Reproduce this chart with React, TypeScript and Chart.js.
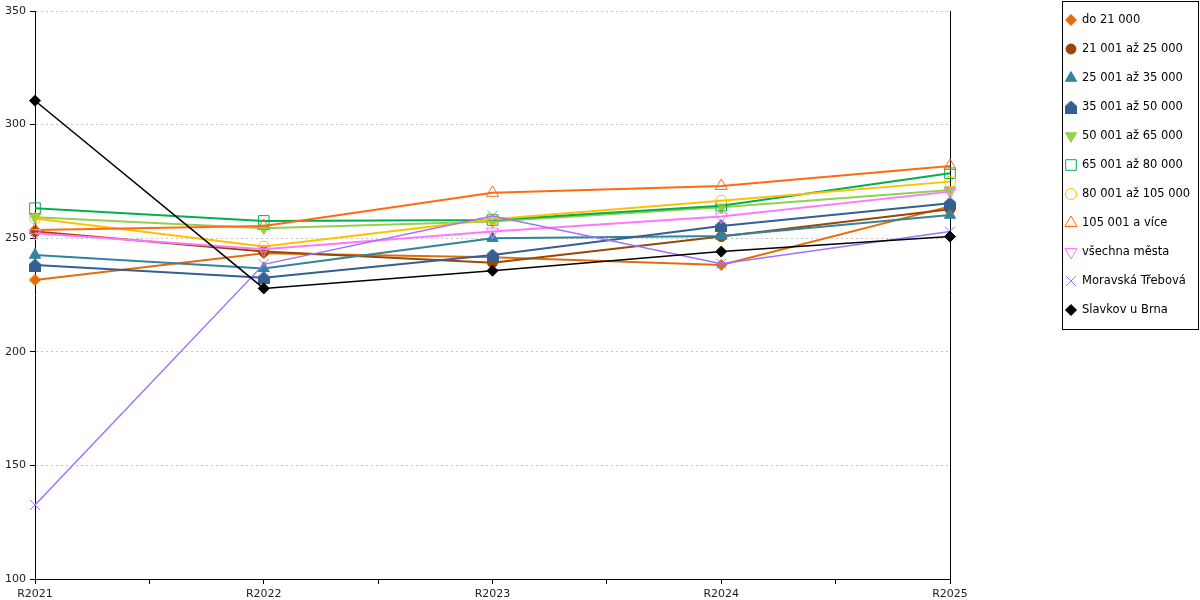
import React, { useEffect, useRef } from "react";
import { Chart, registerables } from "chart.js";
import { drawPoint } from "chart.js/helpers";

Chart.register(...registerables);

const categories = ["R2021", "R2022", "R2023", "R2024", "R2025"];

const seriesNames = [
  "do 21 000",
  "21 001 až 25 000",
  "25 001 až 35 000",
  "35 001 až 50 000",
  "50 001 až 65 000",
  "65 001 až 80 000",
  "80 001 až 105 000",
  "105 001 a více",
  "všechna města",
  "Moravská Třebová",
  "Slavkov u Brna",
];

const do21000 = [231.6, 243.4, 241.6, 238.2, 264.0];
const od21001 = [252.9, 244.1, 239.2, 250.7, 262.7];
const od25001 = [242.6, 236.7, 250.0, 251.0, 260.2];
const od35001 = [238.2, 232.6, 242.6, 255.4, 265.4];
const od50001 = [259.2, 254.4, 257.3, 263.6, 271.2];
const od65001 = [263.2, 257.6, 258.0, 264.3, 278.6];
const od80001 = [258.7, 246.3, 258.3, 266.5, 274.9];
const od105001 = [253.6, 255.4, 270.0, 273.0, 281.8];
const vsechnaMesta = [252.2, 245.1, 252.9, 259.5, 270.5];
const moravskaTrebova = [132.6, 238.5, 259.8, 238.8, 252.9];
const slavkovUBrna = [310.5, 227.9, 235.7, 244.1, 250.7];

const seriesValues = [
  do21000,
  od21001,
  od25001,
  od35001,
  od50001,
  od65001,
  od80001,
  od105001,
  vsechnaMesta,
  moravskaTrebova,
  slavkovUBrna,
];

const yMin = 100;
const yMax = 350;
const yStep = 50;

// pointStyle "house" is made as a small canvas in the effect
const seriesStyles = [
  { color: "#e46c0a", point: "rectRot", radius: 5.5, filled: true, rotation: 0, width: 2 },
  { color: "#974806", point: "circle", radius: 5, filled: true, rotation: 0, width: 2 },
  { color: "#31849b", point: "triangle", radius: 6.5, filled: true, rotation: 0, width: 2 },
  { color: "#365f91", point: "house", radius: 6, filled: true, rotation: 0, width: 2 },
  { color: "#92d050", point: "triangle", radius: 6.5, filled: true, rotation: 180, width: 2 },
  { color: "#00b050", point: "rect", radius: 7.5, filled: false, rotation: 0, width: 2 },
  { color: "#ffc000", point: "circle", radius: 5.5, filled: false, rotation: 0, width: 2 },
  { color: "#ff6a10", point: "triangle", radius: 7, filled: false, rotation: 0, width: 2 },
  { color: "#ff77ff", point: "triangle", radius: 7, filled: false, rotation: 180, width: 2 },
  { color: "#a070ff", point: "crossRot", radius: 7, filled: false, rotation: 0, width: 1.5 },
  { color: "#000000", point: "rectRot", radius: 5.5, filled: true, rotation: 0, width: 1.5 },
];

function makeHouse(color: string) {
  const c = document.createElement("canvas");
  c.width = 12;
  c.height = 13;
  const g = c.getContext("2d")!;
  g.fillStyle = color;
  g.beginPath();
  g.moveTo(6, 0);
  g.lineTo(12, 5.5);
  g.lineTo(12, 13);
  g.lineTo(0, 13);
  g.lineTo(0, 5.5);
  g.closePath();
  g.fill();
  return c;
}

const boxLegend = {
  id: "boxLegend",
  afterDraw(chart: any) {
    const ctx = chart.ctx as CanvasRenderingContext2D;
    ctx.save();
    ctx.strokeStyle = "#000";
    ctx.lineWidth = 1;
    ctx.strokeRect(1062.5, 1.5, 136, 328);
    chart.data.datasets.forEach((ds: any, i: number) => {
      const y = 20 + i * 29;
      ctx.fillStyle = ds.pointBackgroundColor;
      ctx.strokeStyle = ds.pointBorderColor;
      ctx.lineWidth = 1;
      drawPoint(
        ctx,
        {
          pointStyle: ds.pointStyle,
          rotation: ds.pointRotation || 0,
          radius: ds.pointRadius,
          borderWidth: 1,
        } as any,
        1071,
        y
      );
      ctx.fillStyle = "#000";
      ctx.font = "11.5px 'DejaVu Sans', sans-serif";
      ctx.textBaseline = "middle";
      ctx.textAlign = "left";
      ctx.fillText(ds.label, 1082, y);
    });
    ctx.restore();
  },
};

const App: React.FC = () => {
  const chartRef = useRef<HTMLCanvasElement | null>(null);

  useEffect(() => {
    if (!chartRef.current) return;
    Chart.defaults.font.family = "'DejaVu Sans', sans-serif";

    const n = seriesNames.length;
    const datasets = seriesNames.map((name, i) => {
      const s = seriesStyles[i];
      return {
        label: name,
        data: seriesValues[i].map((v, j) => ({ x: j, y: v })),
        borderColor: s.color,
        borderWidth: s.width,
        backgroundColor: s.color,
        pointStyle: s.point === "house" ? makeHouse(s.color) : s.point,
        pointRadius: s.radius,
        pointHoverRadius: s.radius,
        pointRotation: s.rotation,
        pointBackgroundColor: s.filled ? s.color : "rgba(255,255,255,0)",
        pointBorderColor: s.color,
        pointBorderWidth: 1,
        tension: 0,
        fill: false,
        clip: false,
        order: n - i, // later series drawn on top
      };
    });

    const chart = new Chart(chartRef.current, {
      type: "line",
      data: { datasets: datasets as any },
      plugins: [boxLegend],
      options: {
        responsive: false,
        animation: false,
        events: [],
        layout: { padding: { top: 11, right: 250, left: 0, bottom: 0 } },
        plugins: {
          legend: { display: false },
          tooltip: { enabled: false },
        },
        scales: {
          x: {
            type: "linear",
            min: 0,
            max: categories.length - 1,
            afterFit: (scale: any) => {
              scale.height = 21;
            },
            ticks: {
              stepSize: 0.5,
              autoSkip: false,
              maxRotation: 0,
              color: "#222",
              font: { size: 11 },
              padding: 4,
              callback: (v: any) =>
                Number.isInteger(v) ? categories[v as number] : "",
            },
            grid: {
              drawOnChartArea: false,
              tickLength: 5,
              tickColor: "#000",
            },
            border: { display: true, color: "#000", width: 1 },
          },
          y: {
            type: "linear",
            position: "left",
            min: yMin,
            max: yMax,
            afterFit: (scale: any) => {
              scale.width = 35;
            },
            ticks: {
              stepSize: yStep,
              color: "#222",
              font: { size: 11 },
              padding: 4,
            },
            grid: {
              color: (c: any) =>
                c.tick && c.tick.value === yMin ? "rgba(0,0,0,0)" : "#c4c4c4",
              lineWidth: 1,
              tickLength: 5,
              tickColor: "#000",
            },
            border: { display: true, color: "#000", width: 1, dash: [2, 3] },
          },
          y2: {
            type: "linear",
            position: "right",
            min: yMin,
            max: yMax,
            afterFit: (scale: any) => {
              scale.width = 0;
            },
            ticks: { display: false },
            grid: { display: false },
            border: { display: true, color: "#000", width: 1 },
          },
        },
      },
    });

    return () => {
      chart.destroy();
    };
  }, []);

  return (
    <div
      style={{
        position: "fixed",
        left: 0,
        top: 0,
        width: 1200,
        height: 600,
        background: "#fff",
      }}
    >
      <canvas ref={chartRef} width={1200} height={600} />
    </div>
  );
};

export default App;
